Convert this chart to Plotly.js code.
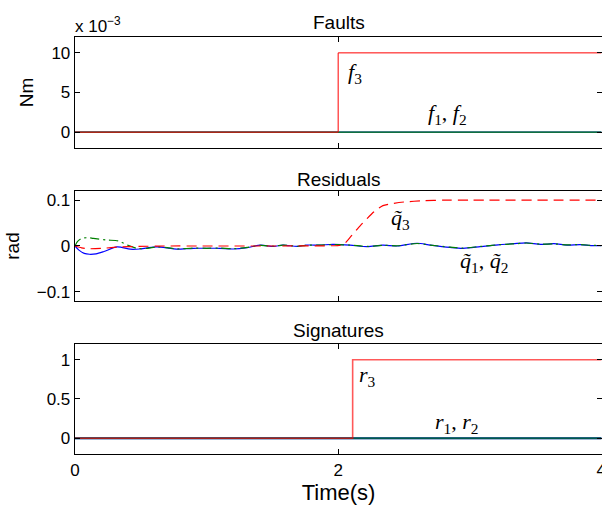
<!DOCTYPE html>
<html>
<head>
<meta charset="utf-8">
<script src="https://cdn.plot.ly/plotly-3.0.1.min.js"></script>
<style>html,body{margin:0;padding:0;background:#fff;}#chart{width:602px;height:507px;}</style>
</head>
<body>
<div id="chart"></div>
<script>
// ---------- data ----------
// Faults (values in units of 1e-3 Nm)
const tFault = [0, 2, 2, 4];
const f1 = [0, 0, 0, 0];
const f2 = [0, 0, 0, 0];
const f3 = [0, 0, 10, 10];

// Residuals (rad)
const tQ1 = [0, 0.03, 0.07, 0.11, 0.16, 0.22, 0.32, 0.42, 0.49, 0.55, 0.62, 0.7, 0.77, 0.9, 1.0, 1.1, 1.2, 1.31, 1.41, 1.51, 1.58, 1.69, 1.76, 1.86, 1.96, 2.09, 2.22, 2.34, 2.45, 2.6, 2.7, 2.85, 2.95, 3.08, 3.23, 3.33, 3.43, 3.54, 3.64, 3.74, 3.84, 3.92, 4.0];
const q1 = [0, -0.009, -0.016, -0.018, -0.017, -0.012, -0.002, -0.007, -0.0065, -0.004, -0.002, -0.004, -0.007, -0.005, -0.005, -0.005, -0.0065, -0.0035, 0.002, -0.001, 0.002, -0.001, 0.002, 0.002, 0.0035, 0.002, -0.0015, 0.002, 0, 0.006, 0.002, -0.003, -0.005, -0.0015, 0.003, 0.005, 0.007, 0.0035, 0.005, 0.002, 0.003, 0.001, 0.001];
const tQ2 = [0, 0.02, 0.05, 0.1, 0.14, 0.24, 0.33, 0.4, 0.47, 0.55, 0.62, 0.7, 0.77, 0.9, 1.0, 1.1, 1.2, 1.31, 1.41, 1.51, 1.58, 1.69, 1.76, 1.86, 1.96, 2.09, 2.22, 2.34, 2.45, 2.6, 2.7, 2.85, 2.95, 3.08, 3.23, 3.33, 3.43, 3.54, 3.64, 3.74, 3.84, 3.92, 4.0];
const q2 = [0, 0.01, 0.0165, 0.018, 0.0165, 0.013, 0.011, 0.002, -0.005, -0.005, -0.002, -0.0035, -0.0065, -0.0045, -0.005, -0.0045, -0.006, -0.003, 0.0015, -0.0005, 0.002, -0.0005, 0.0015, 0.002, 0.003, 0.002, -0.001, 0.0015, 0.0005, 0.0055, 0.002, -0.0025, -0.0045, -0.001, 0.003, 0.0045, 0.0065, 0.004, 0.0045, 0.0025, 0.003, 0.0015, 0.001];
const tQ3 = [0, 0.05, 0.09, 0.21, 0.34, 0.47, 0.7, 1.0, 1.5, 2.0, 2.04, 2.1, 2.17, 2.22, 2.27, 2.34, 2.42, 2.5, 2.65, 2.8, 3.0, 4.0];
const q3 = [0, -0.004, -0.006, -0.005, -0.002, -0.001, 0, 0, 0, 0.001, 0.003, 0.022, 0.045, 0.06, 0.074, 0.088, 0.093, 0.096, 0.099, 0.1, 0.1, 0.1];

// Signatures
const tSig = [0, 2.11, 2.11, 4];
const r1 = [0, 0, 0, 0];
const r2 = [0, 0, 0, 0];
const r3 = [0, 0, 1, 1];

// ticks
const xTicks = [0, 2, 4];
const xTickText = ['0', '2', '4'];
const y1Ticks = [0, 5, 10];
const y1TickText = ['0', '5', '10'];
const y2Ticks = [-0.1, 0, 0.1];
const y2TickText = ['\u22120.1', '0', '0.1'];
const y3Ticks = [0, 0.5, 1];
const y3TickText = ['0', '0.5', '1'];

// ---------- styling ----------
const SANS = 'Liberation Sans, Arial, Helvetica, sans-serif';
const SERIF = 'Liberation Serif, Times New Roman, serif';
const RED = '#ff0000', GREEN = '#008000', BLUE = '#0000ff';

function line(x, y, color, xa, ya, extra) {
  extra = extra || {};
  return {
    x: x, y: y, xaxis: xa, yaxis: ya, type: 'scatter', mode: 'lines',
    line: Object.assign({color: color, width: 1.2}, extra.line || {}),
    opacity: extra.opacity === undefined ? 1 : extra.opacity,
    showlegend: false, hoverinfo: 'skip'
  };
}

const traces = [
  line(tFault, f1, BLUE, 'x', 'y'),
  line(tFault, f2, GREEN, 'x', 'y'),
  line(tFault, f3, RED, 'x', 'y', {line: {width: 1}}),

  line(tQ1, q1, BLUE, 'x2', 'y2', {line: {shape: 'spline', smoothing: 0.8}}),
  line(tQ2, q2, GREEN, 'x2', 'y2', {line: {shape: 'spline', smoothing: 0.8, dash: '9px,4px,2px,4px'}}),
  line(tQ3, q3, RED, 'x2', 'y2', {line: {shape: 'spline', smoothing: 0.6, dash: '10px,6px'}}),

  line(tSig, r1, BLUE, 'x3', 'y3', {line: {width: 2}}),
  line(tSig, r2, GREEN, 'x3', 'y3', {line: {width: 2}, opacity: 0.7}),
  line(tSig, r3, RED, 'x3', 'y3', {line: {width: 1.6}, opacity: 0.65})
];

const XMAX = 4.005;
function xax(showLabels, anchor) {
  return {
    anchor: anchor, range: [0, XMAX], tickvals: xTicks, ticktext: xTickText,
    showticklabels: showLabels, ticklabeloverflow: 'allow',
    ticks: 'inside', ticklen: 5, tickcolor: '#000',
    showline: true, linecolor: '#000', linewidth: 1.3, mirror: 'ticks',
    showgrid: false, zeroline: false,
    tickfont: {family: SANS, size: 17, color: '#000'}
  };
}
function yax(domain, range, tv, tt, anchor) {
  return {
    anchor: anchor, domain: domain, range: range, tickvals: tv, ticktext: tt,
    ticks: 'inside', ticklen: 5, tickcolor: '#000',
    showline: true, linecolor: '#000', linewidth: 1.3, mirror: 'ticks',
    showgrid: false, zeroline: false,
    tickfont: {family: SANS, size: 17, color: '#000'}
  };
}

function ann(text, xref, yref, x, y, font, xanchor) {
  return {text: text, xref: xref, yref: yref, x: x, y: y, xanchor: xanchor || 'center', yanchor: 'middle', showarrow: false, font: font};
}
const titleFont = {family: SANS, size: 19, color: '#000'};
const mathFont = {family: SERIF, size: 22, color: '#000'};

const layout = {
  width: 602, height: 507,
  margin: {l: 75, r: 0, t: 37, b: 53},
  paper_bgcolor: '#fff', plot_bgcolor: '#fff',
  showlegend: false,
  font: {family: SANS, color: '#000'},
  xaxis: xax(false, 'y'),
  xaxis2: xax(false, 'y2'),
  xaxis3: Object.assign(xax(true, 'y3'), {title: {text: 'Time(s)', font: {family: SANS, size: 22, color: '#000'}, standoff: 2}}),
  yaxis: Object.assign(yax([0.7338, 1], [-2, 12], y1Ticks, y1TickText, 'x'),
    {title: {text: 'Nm', font: titleFont, standoff: 12}}),
  yaxis2: Object.assign(yax([0.3669, 0.6307], [-0.12, 0.12], y2Ticks, y2TickText, 'x2'),
    {title: {text: 'rad', font: titleFont, standoff: 12}}),
  yaxis3: yax([0, 0.2638], [-0.2, 1.2], y3Ticks, y3TickText, 'x3'),
  annotations: [
    ann('Faults', 'paper', 'paper', 0.5, 1.0336, titleFont),
    ann('Residuals', 'paper', 'paper', 0.5, 0.6571, titleFont),
    ann('Signatures', 'paper', 'paper', 0.5, 0.2950, titleFont),
    ann('x 10<sup>\u22123</sup>', 'paper', 'paper', -0.004, 1.0288, {family: SANS, size: 17, color: '#000'}, 'left'),

    ann('<i>f</i><sub>3</sub>', 'x', 'y', 2.06, 7.5, mathFont, 'left'),
    ann('<i>f</i><sub>1</sub>, <i>f</i><sub>2</sub>', 'x', 'y', 2.83, 2.3, mathFont),
    ann('<i>q\u0303</i><sub>3</sub>', 'x2', 'y2', 2.47, 0.058, mathFont),
    ann('<i>q\u0303</i><sub>1</sub>, <i>q\u0303</i><sub>2</sub>', 'x2', 'y2', 3.11, -0.036, mathFont),
    ann('<i>r</i><sub>3</sub>', 'x3', 'y3', 2.14, 0.79, mathFont, 'left'),
    ann('<i>r</i><sub>1</sub>, <i>r</i><sub>2</sub>', 'x3', 'y3', 2.9, 0.2, mathFont)
  ]
};

Plotly.newPlot('chart', traces, layout, {staticPlot: true, displayModeBar: false});
</script>
</body>
</html>
